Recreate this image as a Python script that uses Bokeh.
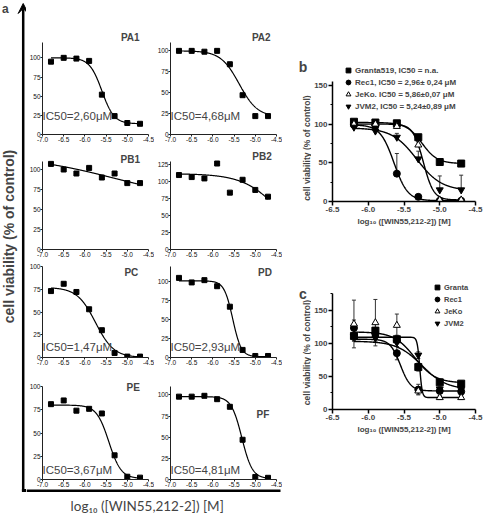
import numpy as np
from bokeh.plotting import figure
from bokeh.layouts import row, column
from bokeh.models import (Range1d, Label, Arrow, VeeHead, Whisker, TeeHead, ColumnDataSource,
                          FixedTicker, SingleIntervalTicker, PrintfTickFormatter, Legend, LegendItem)
from bokeh.embed import file_html
from bokeh.resources import INLINE

# ---------------- data: panel a ----------------
x_a = [-6.8, -6.5, -6.2, -5.9, -5.6, -5.3, -5.0, -4.7]
pa1 = [95, 100, 99, 96, 52, 24, 15, 14]
pa2 = [100, 100, 99, 100, 84, 47, 22, 22]
pb1 = [107, 100, 95, 102, 90, 95, 83, 83]
pb2 = [110, 107, 105, 127, 84, 103, 88, 78]
pc = [73, 81, 72, 53, 30, 5, 1, 1]
pd_ = [105, 99, 102, 94, 67, 10, 2, 2]
pe = [81, 85, 74, 76, 71, 26, 3, 2]
pf = [98, 98, 99, 95, 86, 47, 3, 2]
# fitted dose-response parameters: top, bottom, logIC50, hill
fit_pa1 = [100, 14, -5.6, 3.0]
fit_pa2 = [100, 21, -5.38, 2.0]
fit_pb1 = [118, 60, -5.3, 0.4]
fit_pb2 = [112, 0, -4.4, 1.0]
fit_pc = [77, 0, -5.75, 2.0]
fit_pd = [101, 1, -5.533, 4.3]
fit_pe = [80, 1, -5.435, 3.0]
fit_pf = [98, 1, -5.318, 3.5]
ic50_a = ["IC50=2,60μM", "IC50=4,68μM", "", "", "IC50=1,47μM", "IC50=2,93μM", "IC50=3,67μM", "IC50=4,81μM"]
names_a = ["PA1", "PA2", "PB1", "PB2", "PC", "PD", "PE", "PF"]
ymax_a = [120, 110, 110, 130, 100, 120, 100, 110]
xticks_a = [-7.0, -6.5, -6.0, -5.5, -5.0, -4.5]

# ---------------- data: panel b ----------------
x_bc = [-6.2, -5.9, -5.6, -5.3, -5.0, -4.7]
b_granta = [103, 102, 101, 83, 51, 49]
b_rec1 = [99, 98, 36, 6, 1, 1]
b_jeko = [100, 100, 97, 73, 2, 2]
b_jvm2 = [96, 91, 83, 55, 15, 15]
b_granta_err = [2, 2, 2, 3, 4, 4]
b_rec1_err = [2, 3, 26, 3, 1, 1]
b_jeko_err = [3, 3, 6, 8, 1, 1]
b_jvm2_err = [4, 4, 5, 10, 18, 19]
fit_b_granta = [102, 49, -5.25, 4.0]
fit_b_rec1 = [99, 1, -5.64, 4.5]
fit_b_jeko = [100, 2, -5.23, 6.0]
fit_b_jvm2 = [95, 14, -5.32, 2.5]
legend_b = ["Granta519, IC50 = n.a.", "Rec1, IC50 = 2,96± 0,24 μM",
            "JeKo. IC50 = 5,86±0,07 μM", "JVM2, IC50 = 5,24±0,89 μM"]

# ---------------- data: panel c ----------------
c_granta = [111, 119, 106, 64, 41, 39]
c_rec1 = [123, 114, 85, 30, 28, 27]
c_jeko = [129, 131, 127, 28, 18, 18]
c_jvm2 = [110, 108, 101, 82, 31, 30]
c_granta_err = [8, 10, 6, 6, 4, 4]
c_rec1_err = [12, 8, 10, 8, 4, 4]
c_jeko_err = [36, 35, 17, 5, 3, 3]
c_jvm2_err = [6, 6, 6, 5, 4, 4]
fit_c_granta = [117, 40, -5.35, 3.0]
fit_c_rec1 = [106, 28, -5.55, 6.0]
fit_c_jeko = [109, 18, -5.28, 25.0]
fit_c_jvm2 = [103, 30, -5.25, 2.5]
legend_c = ["Granta", "Rec1", "JeKo", "JVM2"]
xticks_bc = [-6.5, -6.0, -5.5, -5.0, -4.5]

FONT = "Liberation Sans"
YLABEL = "cell viability (% of control)"
XLABEL = "log₁₀ ([WIN55,212-2]) [M]"


def logistic(x, top, bottom, logic50, hill):
    return bottom + (top - bottom) / (1.0 + 10.0 ** (hill * (x - logic50)))


def fit_curve(xs, prm, n=300):
    xx = np.linspace(min(xs), max(xs), n)
    return xx, logistic(xx, *prm)


# ---------------- panel a small plots ----------------
# (figure height, space above data area, border bottom, data-area height)
rows_cfg = [(146, 42, 12, 92), (114, 15, 11, 88), (112, 6, 15, 91), (117, 14, 10, 93)]
# (figure width, border left) for left / right column
cols_cfg = [(128, 14), (128, 14)]
title_dx = [-4.93, -4.86, -4.93, -4.84, -4.905, -4.77, -4.86, -4.82]
title_off = [-5, -5, -2.5, -5.5, 5.5, 5.5, 1, 28]
ic50_off = [19, 19, 0, 0, 10.5, 10.5, 10, 10]
series_a = [pa1, pa2, pb1, pb2, pc, pd_, pe, pf]
fits_a = [fit_pa1, fit_pa2, fit_pb1, fit_pb2, fit_pc, fit_pd, fit_pe, fit_pf]


def small_plot(i):
    r = i // 2
    h, top, bottom, fh = rows_cfg[r]
    w, bl = cols_cfg[i % 2]
    ymax = ymax_a[i]
    ppu = fh / ymax
    ytop = ymax + top / ppu
    p = figure(width=w, height=h, x_range=Range1d(-7.0, -4.5), y_range=Range1d(0, ytop),
               output_backend="svg", toolbar_location=None,
               min_border_left=bl, min_border_right=6, min_border_top=0, min_border_bottom=bottom)
    p.grid.visible = False
    p.outline_line_color = None
    for ax in (p.xaxis[0], p.yaxis[0]):
        ax.axis_line_color = "#222222"
        ax.axis_line_width = 1
        ax.major_tick_out = 2
        ax.major_tick_in = 0
        ax.minor_tick_out = 0
        ax.minor_tick_in = 0
        ax.major_tick_line_color = "#222222"
        ax.major_label_text_font = FONT
        ax.major_label_text_font_size = "6.5px"
        ax.major_label_text_color = "#111111"
        ax.major_label_standoff = 0
    p.xaxis.ticker = FixedTicker(ticks=xticks_a)
    p.xaxis.formatter = PrintfTickFormatter(format="%.1f")
    yt = [t for t in [0, 25, 50, 75, 100, 125] if t <= ymax]
    p.yaxis.ticker = FixedTicker(ticks=yt)
    p.yaxis.bounds = (0, ymax)
    xx, yy = fit_curve(x_a, fits_a[i])
    p.line(xx, yy, line_color="black", line_width=1.2)
    p.scatter(x_a, series_a[i], marker="square", size=5, color="black")
    p.add_layout(Label(x=title_dx[i], y=ymax - title_off[i] / ppu, text=names_a[i],
                       text_align="center", text_baseline="middle", text_font=FONT,
                       text_font_size="10px", text_font_style="bold"))
    if ic50_a[i]:
        p.add_layout(Label(x=-7.0, y=ic50_off[i] / ppu, text=ic50_a[i], text_align="left",
                           text_baseline="middle", text_font=FONT, text_font_size="11.5px"))
    return p


grid_rows = [row(small_plot(2 * r), small_plot(2 * r + 1)) for r in range(4)]

# bottom strip of panel a: frame line + x label
bot = figure(width=256, height=28, x_range=Range1d(26, 282), y_range=Range1d(517, 489),
             output_backend="svg", toolbar_location=None, min_border=0,
             x_axis_location=None, y_axis_location=None)
bot.grid.visible = False
bot.outline_line_color = None
bot.segment(x0=[26], y0=[490], x1=[280], y1=[490], line_color="black", line_width=3)
bot.add_layout(Label(x=146.7, y=505, text=XLABEL, text_align="center",
                     text_baseline="middle", text_font="Lato", text_font_size="13.5px"))

# left strip of panel a: arrow, label "a", y title
strip = figure(width=26, height=517, x_range=Range1d(0, 26), y_range=Range1d(517, 0),
               output_backend="svg", toolbar_location=None, min_border=0,
               x_axis_location=None, y_axis_location=None)
strip.grid.visible = False
strip.outline_line_color = None
strip.add_layout(Arrow(end=VeeHead(size=10, fill_color="black", line_color="black"),
                       x_start=22.7, y_start=491, x_end=22.7, y_end=3,
                       line_color="black", line_width=2.5))
strip.segment(x0=[21.4], y0=[490], x1=[26], y1=[490], line_color="black", line_width=3)
strip.add_layout(Label(x=1.5, y=1.5, text="a", text_align="left", text_baseline="top",
                       text_font=FONT, text_font_size="12px", text_font_style="bold"))
strip.add_layout(Label(x=8.5, y=236, text=YLABEL, angle=np.pi / 2,
                       text_align="center", text_baseline="middle", text_font=FONT,
                       text_font_size="14px", text_font_style="bold"))

panel_a = row(strip, column(*grid_rows, bot))

# ---------------- side strip for panels b and c: letters + y titles ----------------
side = figure(width=29, height=517, x_range=Range1d(282, 311), y_range=Range1d(517, 0),
              output_backend="svg", toolbar_location=None, min_border=0,
              x_axis_location=None, y_axis_location=None)
side.grid.visible = False
side.outline_line_color = None
for letter, ly in (("b", 66.7), ("c", 293.3)):
    side.add_layout(Label(x=302.5, y=ly, text=letter, text_align="center", text_baseline="middle",
                          text_font=FONT, text_font_size="14px", text_font_style="bold"))
for ly in (147.5, 352):
    side.add_layout(Label(x=306.5, y=ly, text=YLABEL, angle=np.pi / 2, text_align="center",
                          text_baseline="middle", text_font=FONT, text_font_size="8.5px",
                          text_font_style="bold"))


# ---------------- panels b and c ----------------
def big_plot(height, bottom, ymax, ytop):
    p = figure(width=172, height=height, x_range=Range1d(-6.5, -4.5), y_range=Range1d(0, ytop),
               output_backend="svg", toolbar_location=None,
               min_border_left=18, min_border_right=8, min_border_top=0, min_border_bottom=bottom)
    p.grid.visible = False
    p.outline_line_color = None
    for ax in (p.xaxis[0], p.yaxis[0]):
        ax.axis_line_color = "black"
        ax.axis_line_width = 1.5
        ax.major_tick_out = 4
        ax.major_tick_in = 0
        ax.minor_tick_out = 2
        ax.minor_tick_in = 0
        ax.major_tick_line_width = 1.5
        ax.minor_tick_line_width = 1.2
        ax.major_label_text_font = FONT
        ax.major_label_text_font_size = "8px"
        ax.major_label_text_font_style = "bold"
        ax.major_label_standoff = 1
        ax.axis_label_text_font = FONT
        ax.axis_label_text_font_style = "bold"
    p.xaxis.ticker = FixedTicker(ticks=xticks_bc, minor_ticks=[])
    p.xaxis.formatter = PrintfTickFormatter(format="%.1f")
    p.yaxis.ticker = SingleIntervalTicker(interval=50, num_minor_ticks=2)
    p.yaxis.bounds = (0, ymax)
    p.xaxis.axis_label = XLABEL
    p.xaxis.axis_label_text_font_size = "8px"
    p.xaxis.axis_label_standoff = 2
    return p


markers = ["square", "circle", "triangle", "inverted_triangle"]
fills = ["black", "black", "white", "black"]


def draw_series(p, ys_list, err_list, fit_list, labels, sym_err, leg_font, loc):
    items = []
    for k in range(4):
        ys = ys_list[k]
        err = err_list[k]
        up = [y + e for y, e in zip(ys, err)]
        lo = [y - e for y, e in zip(ys, err)] if sym_err else list(ys)
        src = ColumnDataSource(dict(x=x_bc, up=up, lo=lo))
        w = Whisker(source=src, base="x", upper="up", lower="lo", line_color="#333333", line_width=1,
                    upper_head=TeeHead(size=4, line_color="#333333", line_width=1),
                    lower_head=TeeHead(size=4, line_color="#333333", line_width=1) if sym_err else None)
        p.add_layout(w)
        xx, yy = fit_curve(x_bc, fit_list[k])
        p.line(xx, yy, line_color="black", line_width=1.4)
    for k in range(4):
        r = p.scatter(x_bc, ys_list[k], marker=markers[k], size=7, line_color="black",
                      fill_color=fills[k], line_width=1)
        items.append(LegendItem(label=labels[k], renderers=[r]))
    leg = Legend(items=items, location=loc, glyph_width=12, glyph_height=12, spacing=-2,
                 padding=0, margin=0, label_standoff=1, label_height=10,
                 label_text_font=FONT, label_text_font_size=leg_font, label_text_font_style="bold",
                 border_line_color=None, background_fill_alpha=0)
    p.add_layout(leg)


# panel b: data area y 81..201 (px) for 0..155, extended up to the figure top
pb = big_plot(232, 31, 155, 155 * 201 / 120)
draw_series(pb, [b_granta, b_rec1, b_jeko, b_jvm2], [b_granta_err, b_rec1_err, b_jeko_err, b_jvm2_err],
            [fit_b_granta, fit_b_rec1, fit_b_jeko, fit_b_jvm2], legend_b, False, "8px", (10, 89))

# panel c: data area y 293..409 (px) for 0..175, extended up to the figure top
pcc = big_plot(285, 108, 175, 175 * 177 / 116)
draw_series(pcc, [c_granta, c_rec1, c_jeko, c_jvm2], [c_granta_err, c_rec1_err, c_jeko_err, c_jvm2_err],
            [fit_c_granta, fit_c_rec1, fit_c_jeko, fit_c_jvm2], legend_c, True, "7.5px", (99, 80))

layout = row(panel_a, side, column(pb, pcc))

open("out.html", "w").write(file_html(layout, INLINE))
